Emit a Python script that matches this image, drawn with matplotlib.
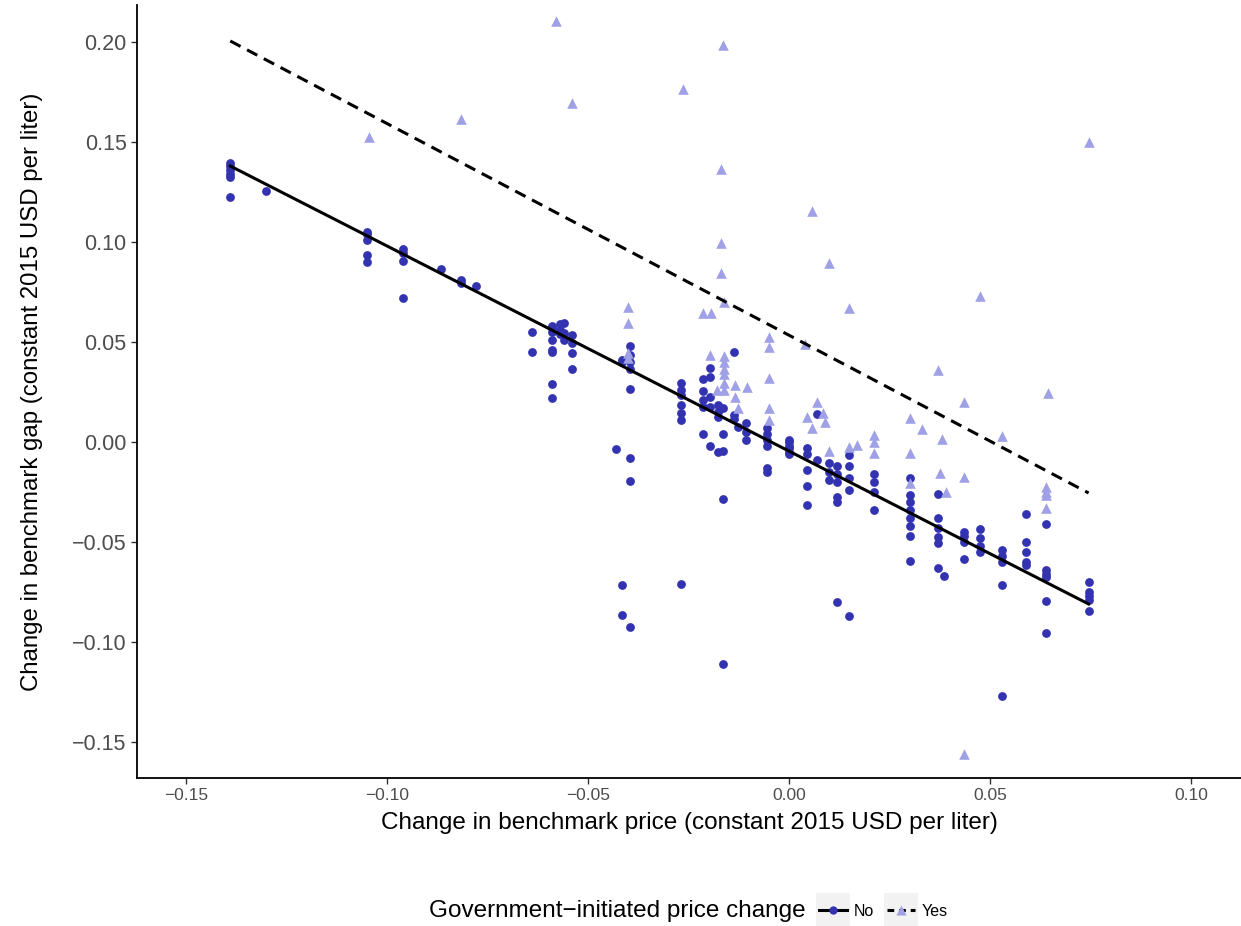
import numpy as np
import matplotlib
matplotlib.use("Agg")
import matplotlib.pyplot as plt

plt.rcParams["font.family"] = ["Liberation Sans", "DejaVu Sans"]

# points without government-initiated change: (x column, y values)
no_cols = [
    (-0.139, [0.1395, 0.138, 0.136, 0.134, 0.1325, 0.1225]),
    (-0.130, [0.1255]),
    (-0.105, [0.105, 0.104, 0.101, 0.0935, 0.090]),
    (-0.096, [0.0965, 0.0945, 0.0905, 0.072]),
    (-0.0865, [0.0866]),
    (-0.0815, [0.081, 0.0795]),
    (-0.078, [0.078]),
    (-0.064, [0.055, 0.045]),
    (-0.059, [0.058, 0.057, 0.055, 0.051, 0.046, 0.045, 0.029, 0.022]),
    (-0.057, [0.059, 0.056, 0.054]),
    (-0.056, [0.0595, 0.0545, 0.051]),
    (-0.054, [0.0535, 0.0495, 0.0445, 0.0365]),
    (-0.043, [-0.0035]),
    (-0.0415, [0.041, 0.040, -0.0715, -0.0865]),
    (-0.0395, [0.048, 0.0435, 0.040, 0.0365, 0.0265, -0.008, -0.0195, -0.0925]),
    (-0.027, [0.0295, 0.026, 0.0235, 0.0185, 0.0145, 0.011, -0.071]),
    (-0.0215, [0.0315, 0.0255, 0.021, 0.0175, 0.004]),
    (-0.0197, [0.037, 0.0325, 0.0225, 0.0175, -0.002]),
    (-0.0177, [0.0185, 0.015, 0.0125, -0.005]),
    (-0.0165, [0.017, 0.004, -0.0045, -0.0285, -0.111]),
    (-0.0137, [0.045, 0.0135, 0.0115]),
    (-0.0127, [0.0075]),
    (-0.0107, [0.0095, 0.005, 0.001]),
    (-0.0055, [0.007, 0.004, 0.001, -0.002, -0.013, -0.015]),
    (0.0, [0.001, -0.002, -0.005, 0.0, -0.003, -0.006]),
    (0.0045, [-0.003, -0.006, -0.014, -0.022, -0.0315]),
    (0.007, [-0.009, 0.014]),
    (0.010, [-0.0105, -0.015, -0.019]),
    (0.012, [-0.012, -0.016, -0.02, -0.0275, -0.03, -0.08]),
    (0.015, [-0.0065, -0.012, -0.018, -0.024, -0.087]),
    (0.021, [-0.016, -0.02, -0.025, -0.034]),
    (0.030, [-0.018, -0.0265, -0.03, -0.034, -0.038, -0.042, -0.047, -0.0595]),
    (0.037, [-0.026, -0.038, -0.043, -0.0475, -0.0505, -0.063]),
    (0.0385, [-0.067]),
    (0.0435, [-0.045, -0.05, -0.0585, -0.047]),
    (0.0475, [-0.0435, -0.048, -0.055, -0.052]),
    (0.053, [-0.054, -0.057, -0.06, -0.0715, -0.127]),
    (0.059, [-0.036, -0.05, -0.055, -0.06, -0.0615]),
    (0.064, [-0.041, -0.064, -0.0675, -0.066, -0.0795, -0.0955]),
    (0.0745, [-0.07, -0.075, -0.077, -0.079, -0.0845]),
]

x_no = np.array([x for x, ys in no_cols for _ in ys])
y_no = np.array([y for _, ys in no_cols for y in ys])

# government-initiated price changes
x_yes = np.array([
    -0.1045, -0.0815, -0.058, -0.054, -0.040, -0.040, -0.040, -0.040,
    -0.0265, -0.0165, -0.017, -0.017, -0.017, -0.0162,
    -0.0215, -0.0195, -0.0197, -0.0162, -0.0162, -0.0162, -0.0162, -0.0162,
    -0.0162, -0.0135, -0.0105, -0.018, -0.0135, -0.0127,
    -0.005, -0.005, -0.005, -0.005, -0.005,
    0.0057, 0.010, 0.015, 0.004,
    0.007, 0.0045, 0.0057, 0.0085, 0.009, 0.010, 0.015, 0.017, 0.021, 0.021, 0.021,
    0.030, 0.030, 0.030, 0.033, 0.038, 0.0375, 0.039, 0.0435, 0.0435, 0.053,
    0.0645, 0.064, 0.064, 0.064, 0.064,
    0.037, 0.0475, 0.0745, 0.0435,
])
y_yes = np.array([
    0.1525, 0.1615, 0.2105, 0.1695, 0.0675, 0.0595, 0.0445, 0.042,
    0.1765, 0.1985, 0.1365, 0.0995, 0.0845, 0.07,
    0.0645, 0.0645, 0.0435, 0.043, 0.040, 0.0365, 0.034, 0.0295,
    0.026, 0.0285, 0.0275, 0.026, 0.0225, 0.017,
    0.0525, 0.0475, 0.032, 0.017, 0.011,
    0.1155, 0.0895, 0.067, 0.049,
    0.020, 0.0125, 0.007, 0.0145, 0.010, -0.0045, -0.0025, -0.0015, 0.0035, 0.0, -0.0055,
    0.012, -0.0055, -0.0205, 0.0065, 0.0015, -0.0155, -0.025, 0.020, -0.0175, 0.003,
    0.0245, -0.0225, -0.025, -0.0265, -0.033,
    0.036, 0.073, 0.15, -0.156,
])

# fitted lines (ends of the lm fits)
fit_x = [-0.139, 0.0745]
fit_no = [0.138, -0.081]
fit_yes = [0.2005, -0.0255]

col_no = "#3333B2"
col_yes = "#A0A0E6"

fig = plt.figure(figsize=(12.41, 9.26), dpi=100)
ax = fig.add_axes([137 / 1241, 148 / 926, 1104 / 1241, 773 / 926])

ax.scatter(x_no, y_no, s=40, color=col_no, marker="o", linewidths=0, zorder=2)
ax.scatter(x_yes, y_yes, s=58, color=col_yes, marker="^", linewidths=0, zorder=2)

ax.plot(fit_x, fit_no, color="black", lw=2.2, zorder=3)
ax.plot(fit_x, fit_yes, color="black", lw=2.2, ls=(0, (3.8, 2.4)), zorder=3)

ax.set_xlim(-0.1622, 0.1124)
ax.set_ylim(-0.168, 0.2185)
ax.set_xticks(np.arange(-0.15, 0.11, 0.05))
ax.set_xticklabels(["\u22120.15", "\u22120.10", "\u22120.05", "0.00", "0.05", "0.10"])
ax.set_yticks(np.arange(-0.15, 0.21, 0.05))
ax.set_yticklabels(["\u22120.15", "\u22120.10", "\u22120.05", "0.00", "0.05", "0.10", "0.15", "0.20"])
ax.tick_params(axis="x", labelsize=12.5, colors="#333333", labelcolor="#4D4D4D", length=4, width=1)
ax.tick_params(axis="y", labelsize=15.5, colors="#333333", labelcolor="#4D4D4D", length=4, width=1)
for s in ["top", "right"]:
    ax.spines[s].set_visible(False)
for s in ["left", "bottom"]:
    ax.spines[s].set_linewidth(1.3)
    ax.spines[s].set_color("black")

ax.set_xlabel("Change in benchmark price (constant 2015 USD per liter)", fontsize=17.5, labelpad=6)
ax.set_ylabel("Change in benchmark gap (constant 2015 USD per liter)", fontsize=17.3, labelpad=21)

# legend at bottom, ggplot style
fig.text(806 / 1241, 1 - 911 / 926, "Government\u2212initiated price change", fontsize=17.5,
         ha="right", va="center")
keys = [("No", "-", "o", col_no, 816), ("Yes", (0, (2.2, 1.6)), "^", col_yes, 884)]
for lab, ls, mk, c, px in keys:
    kax = fig.add_axes([px / 1241, 1 - 928 / 926, 34 / 1241, 35 / 926])
    kax.set_facecolor("#F2F2F2")
    kax.set_xlim(0, 1)
    kax.set_ylim(0, 1)
    kax.plot([0.08, 0.92], [0.5, 0.5], color="black", lw=2.2, ls=ls, zorder=1)
    kax.plot([0.5], [0.52], marker=mk, color=c, ms=6 if mk == "o" else 7, mec="none", zorder=2)
    kax.set_xticks([])
    kax.set_yticks([])
    for s in kax.spines.values():
        s.set_visible(False)
    fig.text((px + 38) / 1241, 1 - 911 / 926, lab, fontsize=11.5, ha="left", va="center")

fig.savefig("out.png", dpi=100)
